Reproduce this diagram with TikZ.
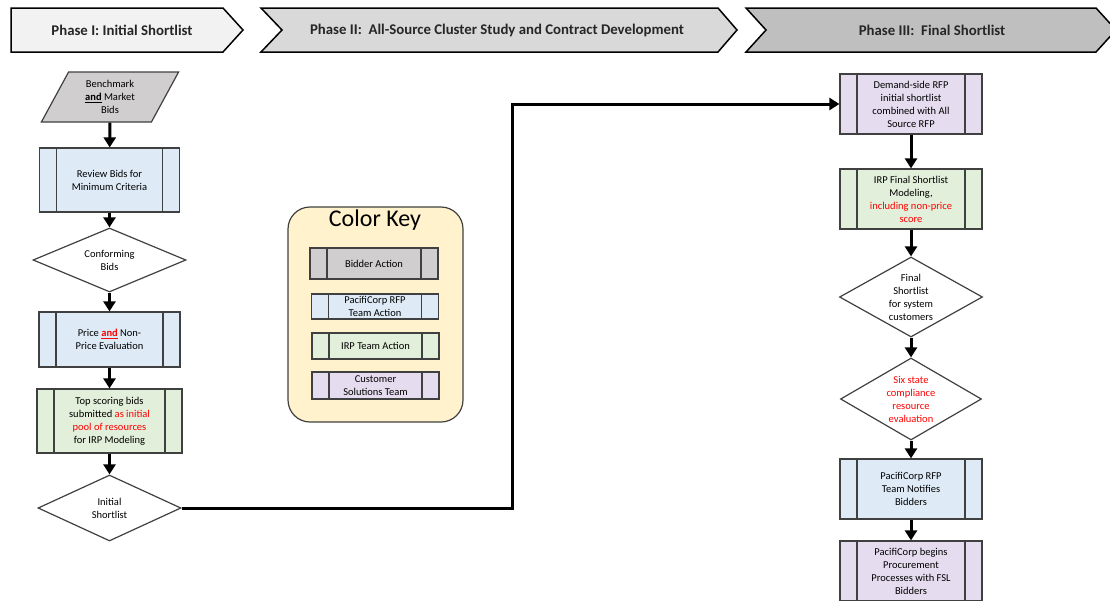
\documentclass[tikz,border=0pt]{standalone}
\usepackage{fontspec}
\setmainfont{Carlito}
\usetikzlibrary{shapes.geometric}
\usetikzlibrary{arrows.meta}

\definecolor{bidgray}{HTML}{D0CECE}
\definecolor{rfpblue}{HTML}{DEEBF7}
\definecolor{irpgreen}{HTML}{E2EFDA}
\definecolor{cstpurple}{HTML}{E5DDEF}
\definecolor{keyyellow}{HTML}{FFF2CC}
\definecolor{boxline}{HTML}{404040}
\definecolor{phaseone}{HTML}{F2F2F2}
\definecolor{phasetwo}{HTML}{D9D9D9}
\definecolor{phasethree}{HTML}{BFBFBF}

\newcommand{\flowfont}{\fontsize{10.5}{13}\selectfont}
\newcommand{\redtx}[1]{\textcolor{red}{#1}}

\begin{document}
\begin{tikzpicture}[x=1pt, y=-1pt]
            \tikzstyle{proc} = [draw=boxline, line width=1.2pt, rectangle, inner sep=1pt, align=center, font=\flowfont,
                path picture={\draw[boxline, line width=1.2pt]
                    ([xshift=17pt]path picture bounding box.north west) -- ([xshift=17pt]path picture bounding box.south west)
                    ([xshift=-17pt]path picture bounding box.north east) -- ([xshift=-17pt]path picture bounding box.south east);}]
            \tikzstyle{decision} = [draw=boxline, line width=1.2pt, diamond, inner sep=0pt, fill=white]
            \tikzstyle{txt} = [font=\flowfont, align=center, inner sep=0pt]
            \tikzstyle{flow} = [-{Triangle[width=12pt,length=10pt]}, line width=3pt, black]
            \tikzstyle{phasebox} = [draw=black, line width=1.5pt]
            \tikzstyle{phasetext} = [font=\fontsize{14.8}{17}\selectfont\bfseries, text=black!85]

            \useasboundingbox (0,0) rectangle (1110,600);
            \clip (0,0) rectangle (1110,600);

            \draw [phasebox, fill=phaseone] (11,8) -- (223,8) -- (243,30) -- (223,52) -- (11,52) -- cycle;
            \draw [phasebox, fill=phasetwo] (261,8) -- (718,8) -- (737,30) -- (718,52) -- (261,52) -- (282,30) -- cycle;
            \draw [phasebox, fill=phasethree] (746,8) -- (1096,8) -- (1116,30) -- (1096,52) -- (746,52) -- (766,30) -- cycle;
            \node (p1) [phasetext] at (122,30) {Phase I: Initial Shortlist};
            \node (p2) [phasetext] at (497,30) {Phase II:\ \ All-Source Cluster Study and Contract Development};
            \node (p3) [phasetext] at (932,30) {Phase III:\ \ Final Shortlist};

            \node (l1) [trapezium, trapezium left angle=64, trapezium right angle=116, trapezium stretches=true,
                minimum width=138, minimum height=50, inner sep=0pt, draw=boxline, line width=1.2pt,
                fill=bidgray, txt] at (110,97) {Benchmark\\\underline{\textbf{and}} Market\\Bids};
            \node (l2) [proc, fill=rfpblue, minimum width=140, minimum height=64] at (109.5,180) {Review Bids for\\Minimum Criteria};
            \node (l3) [decision, minimum width=153, minimum height=64, label={[txt]center:Conforming\\Bids}] at (109.5,260) {};
            \node (l4) [proc, fill=rfpblue, minimum width=141, minimum height=55] at (109.5,339.5) {Price \redtx{\underline{\textbf{and}}} Non-\\Price Evaluation};
            \node (l5) [proc, fill=irpgreen, minimum width=145, minimum height=64] at (109.5,421) {Top scoring bids\\submitted \redtx{as initial}\\\redtx{pool of resources}\\for IRP Modeling};
            \node (l6) [decision, minimum width=143, minimum height=66, label={[txt]center:Initial\\Shortlist}] at (109.5,508) {};
            \draw (l1) edge[flow] (l2);
            \draw (l2) edge[flow] (l3);
            \draw (l3) edge[flow] (l4);
            \draw (l4) edge[flow] (l5);
            \draw (l5) edge[flow] (l6);

            \node (k0) [draw=boxline, line width=1.2pt, fill=keyyellow, rounded corners=22pt, minimum width=175, minimum height=215] at (375.5,314.5) {};
            \node (kt) [font=\fontsize{24}{28}\selectfont] at (375,220) {Color Key};
            \node (k1) [proc, fill=bidgray, minimum width=128, minimum height=31] at (374,263.5) {Bidder Action};
            \node (k2) [proc, fill=rfpblue, minimum width=127, minimum height=25] at (375,306.5) {PacifiCorp RFP\\Team Action};
            \node (k3) [proc, fill=irpgreen, minimum width=127, minimum height=26] at (375.5,346) {IRP Team Action};
            \node (k4) [proc, fill=cstpurple, minimum width=127, minimum height=27] at (375.5,385.5) {Customer\\Solutions Team};

            \node (r1) [proc, fill=cstpurple, minimum width=142, minimum height=60] at (911,104) {Demand-side RFP\\initial shortlist\\combined with All\\Source RFP};
            \node (r2) [proc, fill=irpgreen, minimum width=142, minimum height=60] at (911,199) {IRP Final Shortlist\\Modeling,\\\redtx{including non-price}\\\redtx{score}};
            \node (r3) [decision, minimum width=143, minimum height=80, label={[txt]center:Final\\Shortlist\\for system\\customers}] at (911,297) {};
            \node (r4) [decision, minimum width=141, minimum height=82, label={[txt, text=red]center:Six state\\compliance\\resource\\evaluation}] at (911,399) {};
            \node (r5) [proc, fill=rfpblue, minimum width=142, minimum height=60] at (911,489) {PacifiCorp RFP\\Team Notifies\\Bidders};
            \node (r6) [proc, fill=cstpurple, minimum width=142, minimum height=60] at (911,571) {PacifiCorp begins\\Procurement\\Processes with FSL\\Bidders};
            \draw (r1) edge[flow] (r2);
            \draw (r2) edge[flow] (r3);
            \draw (r3) edge[flow] (r4);
            \draw (r4) edge[flow] (r5);
            \draw (r5) edge[flow] (r6);

            \coordinate (c1) at (512,104);
            \draw [flow] (l6.east) -| (c1) -- (r1.west);
\end{tikzpicture}
\end{document}
